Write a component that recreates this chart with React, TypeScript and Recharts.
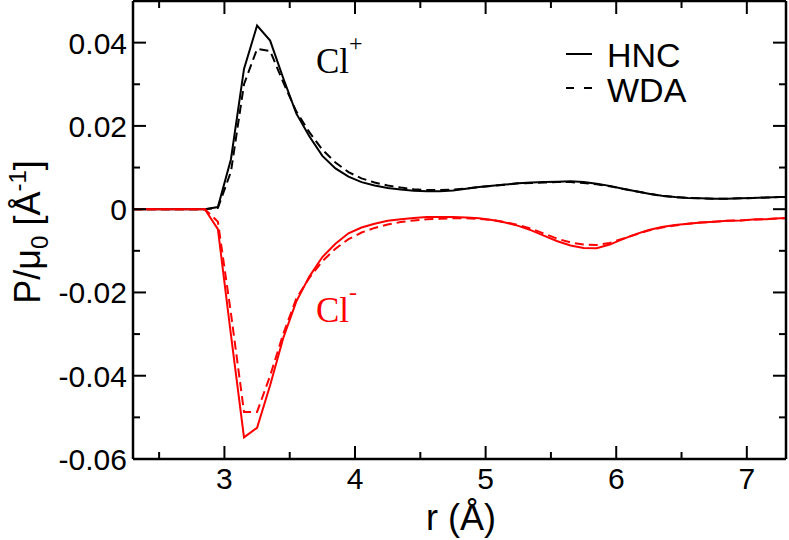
import { LineChart, Line, XAxis, YAxis } from 'recharts'

if (typeof document !== 'undefined') document.body.style.margin = '0'

const R = [
  2.3, 2.35, 2.45, 2.55, 2.65, 2.75, 2.85, 2.95, 3.05, 3.15, 3.25, 3.35, 3.45, 3.55, 3.65, 3.75,
  3.85, 3.95, 4.05, 4.15, 4.25, 4.35, 4.45, 4.55, 4.65, 4.75, 4.85, 4.95, 5.05, 5.15, 5.25, 5.35,
  5.45, 5.55, 5.65, 5.75, 5.85, 5.95, 6.05, 6.15, 6.25, 6.35, 6.45, 6.55, 6.65, 6.75, 6.85, 6.95,
  7.05, 7.15, 7.25, 7.3,
]

// Cl+ (black)
const PLUS_HNC = [
  0, 0, 0, 0, 0, 0, 0, 0.0005, 0.012, 0.0337, 0.0441, 0.0405, 0.0315, 0.023, 0.0175, 0.0128,
  0.0098, 0.0078, 0.0065, 0.0057, 0.0051, 0.0047, 0.0044, 0.0043, 0.0043, 0.0045, 0.0049, 0.0053,
  0.0056, 0.0059, 0.0062, 0.0064, 0.0065, 0.0066, 0.0067, 0.0065, 0.0061, 0.0056, 0.0049, 0.0043,
  0.0037, 0.0032, 0.0029, 0.0027, 0.0026, 0.0025, 0.0025, 0.0026, 0.0027, 0.0028, 0.0029, 0.0029,
]
const PLUS_WDA = [
  0, 0, 0, 0, 0, 0, 0, 0.0003, 0.009, 0.03, 0.0385, 0.038, 0.0305, 0.0235, 0.0185, 0.0143,
  0.0112, 0.0089, 0.0074, 0.0064, 0.0057, 0.0052, 0.0048, 0.0046, 0.0046, 0.0047, 0.005, 0.0053,
  0.0056, 0.0059, 0.0062, 0.0063, 0.0064, 0.0065, 0.0065, 0.0063, 0.006, 0.0055, 0.0049, 0.0043,
  0.0037, 0.0032, 0.0029, 0.0027, 0.0026, 0.0025, 0.0025, 0.0026, 0.0027, 0.0028, 0.0029, 0.0029,
]

// Cl- (red)
const MINUS_HNC = [
  0, 0, 0, 0, 0, 0, 0, -0.0048, -0.0302, -0.0548, -0.0525, -0.0423, -0.031, -0.0222, -0.0162,
  -0.0115, -0.0083, -0.0058, -0.0044, -0.0035, -0.0028, -0.0024, -0.0021, -0.0019, -0.0019,
  -0.0019, -0.002, -0.0022, -0.0026, -0.0032, -0.004, -0.0051, -0.0064, -0.0077, -0.0087, -0.0093,
  -0.0094, -0.0085, -0.0072, -0.006, -0.005, -0.0043, -0.0038, -0.0035, -0.0032, -0.003, -0.0028,
  -0.0027, -0.0025, -0.0024, -0.0022, -0.0022,
]
const MINUS_WDA = [
  0, 0, 0, 0, 0, 0, 0, -0.003, -0.025, -0.0487, -0.0487, -0.04, -0.03, -0.0215, -0.0165, -0.0125,
  -0.0095, -0.0072, -0.0056, -0.0045, -0.0037, -0.0031, -0.0027, -0.0024, -0.0023, -0.0022,
  -0.0022, -0.0023, -0.0026, -0.0031, -0.0038, -0.0047, -0.0059, -0.0071, -0.008, -0.0085, -0.0086,
  -0.0081, -0.0071, -0.0061, -0.0051, -0.0044, -0.0039, -0.0035, -0.0032, -0.003, -0.0028, -0.0027,
  -0.0025, -0.0024, -0.0022, -0.0022,
]

const X_TICKS = [2.5, 3, 3.5, 4, 4.5, 5, 5.5, 6, 6.5, 7]
const Y_TICKS = [-0.06, -0.05, -0.04, -0.03, -0.02, -0.01, 0, 0.01, 0.02, 0.03, 0.04]

const data = R.map((r, i) => ({
  r,
  plusHnc: PLUS_HNC[i],
  plusWda: PLUS_WDA[i],
  minusHnc: MINUS_HNC[i],
  minusWda: MINUS_WDA[i],
}))

const SANS = '"Liberation Sans", Arial, Helvetica, sans-serif'
const SERIF = '"Liberation Serif", "Times New Roman", serif'
const MAJOR = 13
const MINOR = 7

const isMajorX = (v: number) => Number.isInteger(v)
const isMajorY = (v: number) => Math.round(v * 100) % 2 === 0
const yLabel = (v: number) => (Math.abs(v) < 1e-9 ? '0' : v.toFixed(2))

function BottomTick(props: any) {
  const { x, y, payload } = props
  const v = payload.value as number
  const major = isMajorX(v)
  return (
    <g>
      <line x1={x} y1={y} x2={x} y2={y - (major ? MAJOR : MINOR)} stroke="#000" strokeWidth={2} />
      {major && (
        <text x={x} y={y + 30} textAnchor="middle" fontSize={30} fontFamily={SANS} fill="#000">
          {v}
        </text>
      )}
    </g>
  )
}

function TopTick(props: any) {
  const { x, y, payload } = props
  const major = isMajorX(payload.value)
  return <line x1={x} y1={y} x2={x} y2={y + (major ? MAJOR : MINOR)} stroke="#000" strokeWidth={2} />
}

function LeftTick(props: any) {
  const { x, y, payload } = props
  const v = payload.value as number
  const major = isMajorY(v)
  return (
    <g>
      <line x1={x} y1={y} x2={x + (major ? MAJOR : MINOR)} y2={y} stroke="#000" strokeWidth={2} />
      {major && (
        <text x={x - 6} y={y + 11} textAnchor="end" fontSize={30} fontFamily={SANS} fill="#000">
          {yLabel(v)}
        </text>
      )}
    </g>
  )
}

function RightTick(props: any) {
  const { x, y, payload } = props
  const major = isMajorY(payload.value)
  return <line x1={x} y1={y} x2={x - (major ? MAJOR : MINOR)} y2={y} stroke="#000" strokeWidth={2} />
}

const axisLine = { stroke: '#000', strokeWidth: 2.5 }

export default function App() {
  return (
    <div style={{ position: 'relative', width: 789, height: 540, background: '#fff' }}>
      <LineChart width={789} height={540} data={data} margin={{ top: 0, right: 2, bottom: 80, left: 132 }}>
        <XAxis
          xAxisId="b"
          dataKey="r"
          type="number"
          domain={[2.3, 7.3]}
          allowDataOverflow
          ticks={X_TICKS}
          interval={0}
          height={1}
          tickSize={0}
          tickMargin={0}
          tickLine={false}
          axisLine={axisLine}
          tick={<BottomTick />}
        />
        <XAxis
          xAxisId="t"
          orientation="top"
          dataKey="r"
          type="number"
          domain={[2.3, 7.3]}
          allowDataOverflow
          ticks={X_TICKS}
          interval={0}
          height={1}
          tickSize={0}
          tickMargin={0}
          tickLine={false}
          axisLine={axisLine}
          tick={<TopTick />}
        />
        <YAxis
          yAxisId="l"
          type="number"
          domain={[-0.06, 0.05]}
          allowDataOverflow
          ticks={Y_TICKS}
          interval={0}
          width={1}
          tickSize={0}
          tickMargin={0}
          tickLine={false}
          axisLine={axisLine}
          tick={<LeftTick />}
        />
        <YAxis
          yAxisId="r"
          orientation="right"
          type="number"
          domain={[-0.06, 0.05]}
          allowDataOverflow
          ticks={Y_TICKS}
          interval={0}
          width={1}
          tickSize={0}
          tickMargin={0}
          tickLine={false}
          axisLine={axisLine}
          tick={<RightTick />}
        />
        <Line xAxisId="b" yAxisId="l" type="linear" dataKey="plusHnc" stroke="#000" strokeWidth={2} dot={false} isAnimationActive={false} />
        <Line xAxisId="b" yAxisId="l" type="linear" dataKey="plusWda" stroke="#000" strokeWidth={2} strokeDasharray="9 5" dot={false} isAnimationActive={false} />
        <Line xAxisId="b" yAxisId="l" type="linear" dataKey="minusHnc" stroke="#ff0000" strokeWidth={2} dot={false} isAnimationActive={false} />
        <Line xAxisId="b" yAxisId="l" type="linear" dataKey="minusWda" stroke="#ff0000" strokeWidth={2} strokeDasharray="9 5" dot={false} isAnimationActive={false} />
      </LineChart>

      <svg width={789} height={540} style={{ position: 'absolute', left: 0, top: 0, pointerEvents: 'none' }}>
        {/* axis titles */}
        <text x={461} y={530} textAnchor="middle" fontSize={36} fontFamily={SANS} fill="#000">
          r (Å)
        </text>
        <text transform="translate(40,232) rotate(-90)" textAnchor="middle" fontSize={36} fontFamily={SANS} fill="#000">
          P/μ<tspan fontSize={24} dy={8}>0</tspan>
          <tspan dy={-8}> [Å</tspan>
          <tspan fontSize={24} dy={-14}>-1</tspan>
          <tspan dy={14}>]</tspan>
        </text>

        {/* legend */}
        <line x1={566} y1={54} x2={592} y2={54} stroke="#000" strokeWidth={2} />
        <text x={607} y={67} fontSize={34} fontFamily={SANS} fill="#000">HNC</text>
        <line x1={566} y1={88} x2={592} y2={88} stroke="#000" strokeWidth={2} strokeDasharray="8 10" />
        <text x={607} y={102} fontSize={34} fontFamily={SANS} fill="#000">WDA</text>

        {/* curve labels */}
        <text x={316} y={73} fontSize={35} fontFamily={SERIF} fill="#000">
          Cl<tspan fontSize={24} dy={-22}>+</tspan>
        </text>
        <text x={316} y={322} fontSize={35} fontFamily={SERIF} fill="#ff0000">
          Cl<tspan fontSize={24} dy={-22}>-</tspan>
        </text>
      </svg>
    </div>
  )
}
